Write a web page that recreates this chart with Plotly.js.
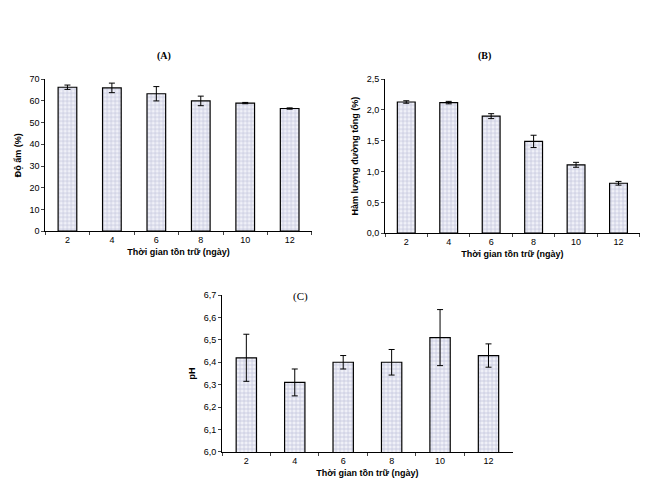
<!DOCTYPE html>
<html>
<head>
<meta charset="utf-8">
<script src="https://cdn.plot.ly/plotly-3.0.1.min.js"></script>
<style>body{margin:0;background:#fff}#plot{width:665px;height:495px}</style>
</head>
<body>
<div id="plot"></div>
<script>
var days = ['2', '4', '6', '8', '10', '12'];

var doAm = [66.3, 66.0, 63.3, 60.0, 59.0, 56.5];
var doAmErr = [1.0, 2.2, 3.3, 2.2, 0.3, 0.3];

var duong = [2.13, 2.12, 1.90, 1.49, 1.11, 0.81];
var duongErr = [0.02, 0.02, 0.04, 0.10, 0.04, 0.03];

var ph = [6.42, 6.31, 6.40, 6.40, 6.51, 6.43];
var phErr = [0.105, 0.06, 0.03, 0.057, 0.125, 0.052];

function barTrace(y, err, xa, ya) {
    return {
        type: 'bar', x: days, y: y, xaxis: xa, yaxis: ya,
        marker: {
            color: '#ffffff',
            line: { color: '#000', width: 1.2 },
            pattern: { shape: '+', fgcolor: '#c4c6dc', bgcolor: '#f0f1f8', size: 4, solidity: 0.35 }
        },
        error_y: { type: 'data', array: err, visible: true, color: '#000', thickness: 1, width: 3 },
        showlegend: false
    };
}

var axFont = { family: 'Liberation Sans, Arial', size: 9, color: '#000' };
var ttlFont = { family: 'Liberation Sans, Arial', size: 9, color: '#000' };

function xAxis(dom, anchor) {
    return {
        domain: dom, anchor: anchor, type: 'category', showline: true, linecolor: '#000', linewidth: 1,
        ticks: 'outside', ticklen: 3, tickson: 'boundaries', tickfont: axFont, showgrid: false,
        title: { text: '<b>Thời gian tồn trữ (ngày)</b>', font: ttlFont, standoff: 4 }
    };
}
function yAxis(dom, anchor, range, dtick, fmt, title) {
    return {
        domain: dom, anchor: anchor, range: range, dtick: dtick, tickformat: fmt,
        showline: true, linecolor: '#000', linewidth: 1,
        ticks: 'outside', ticklen: 3, tickfont: axFont, showgrid: false, zeroline: false,
        title: { text: '<b>' + title + '</b>', font: ttlFont, standoff: 6 }
    };
}

var data = [
    barTrace(doAm, doAmErr, 'x', 'y'),
    barTrace(duong, duongErr, 'x2', 'y2'),
    barTrace(ph, phErr, 'x3', 'y3')
];

var layout = {
    width: 665, height: 495,
    margin: { l: 0, r: 0, t: 0, b: 0 },
    paper_bgcolor: '#fff', plot_bgcolor: '#fff',
    separators: ',.',
    bargap: 0.58,
    xaxis: xAxis([0.068, 0.469], 'y'),
    yaxis: yAxis([0.533, 0.840], 'x', [0, 70], 10, '', 'Độ ẩm (%)'),
    xaxis2: xAxis([0.579, 0.962], 'y2'),
    yaxis2: yAxis([0.529, 0.840], 'x2', [0, 2.5], 0.5, '.1f', 'Hàm lượng đường tổng (%)'),
    xaxis3: xAxis([0.334, 0.771], 'y3'),
    yaxis3: yAxis([0.087, 0.404], 'x3', [6.0, 6.7], 0.1, '.1f', 'pH'),
    annotations: [
        { text: '<b>(A)</b>', x: 155 / 665, y: 1 - 48 / 495, xref: 'paper', yref: 'paper', showarrow: false,
          font: { family: 'Liberation Serif, Times New Roman', size: 10, color: '#000' } },
        { text: '<b>(B)</b>', x: 493 / 665, y: 1 - 48 / 495, xref: 'paper', yref: 'paper', showarrow: false,
          font: { family: 'Liberation Serif, Times New Roman', size: 10, color: '#000' } },
        { text: '(C)', x: 300 / 665, y: 1 - 296 / 495, xref: 'paper', yref: 'paper', showarrow: false,
          font: { family: 'Liberation Serif, Times New Roman', size: 11, color: '#000' } }
    ]
};

Plotly.newPlot('plot', data, layout, { displayModeBar: false, staticPlot: true });
</script>
</body>
</html>
